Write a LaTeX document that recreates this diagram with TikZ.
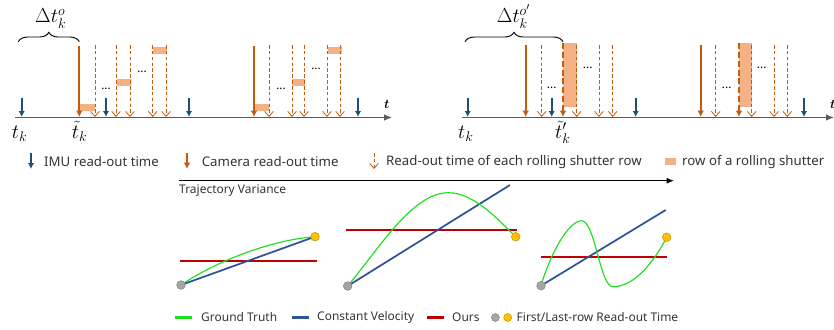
\documentclass[tikz,border=0pt]{standalone}
\usepackage{amsmath,amssymb}
\usepackage{fontspec}
\setmainfont{Noto Sans}
\usetikzlibrary{arrows.meta,decorations.pathreplacing}
\definecolor{cimu}{HTML}{1F4E79}
\definecolor{ccam}{HTML}{C55A11}
\definecolor{crow}{HTML}{F4B183}
\definecolor{caxis}{HTML}{595959}
\definecolor{cgt}{HTML}{1EE01E}
\definecolor{ccv}{HTML}{2F5597}
\definecolor{cours}{HTML}{C00000}
\definecolor{cfirst}{HTML}{A5A5A5}
\definecolor{clast}{HTML}{FFC000}
\tikzset{
  axis/.style={-{Latex[length=2.4mm,width=2mm]}, draw=caxis, line width=1.1pt},
  imu/.style={-{Latex[length=1.8mm,width=1.9mm]}, draw=cimu, line width=1.9pt},
  cam/.style={-{Latex[length=1.9mm,width=2mm]}, draw=ccam, line width=1.9pt},
  camd/.style={cam, dash pattern=on 5pt off 2.5pt},
  rs/.style={-{Straight Barb[length=1.5mm,width=2.6mm]}, draw=ccam, line width=0.7pt, dash pattern=on 3pt off 2pt},
  row/.style={fill=crow, draw=none},
  brc/.style={decorate, decoration={brace, amplitude=8pt}, line width=0.8pt},
  mlbl/.style={font=\fontsize{18}{20}\selectfont, inner sep=0pt, anchor=base west},
  tlbl/.style={font=\fontsize{10.5}{12}\selectfont, inner sep=0pt, anchor=base west},
  dots/.style={font=\bfseries\fontsize{10}{10}\selectfont, inner sep=0pt},
  lgd/.style={font=\fontsize{11.3}{13}\selectfont, anchor=west, inner sep=0pt, text=black!80},
  slgd/.style={font=\fontsize{10.2}{12}\selectfont, anchor=west, inner sep=0pt, text=black!80},
  gt/.style={draw=cgt, line width=1pt},
  cv/.style={draw=ccv, line width=1.5pt},
  ours/.style={draw=cours, line width=1.5pt},
  fpt/.style={circle, fill=cfirst, draw=black!50, line width=0.4pt, inner sep=0pt, minimum size=2.6mm},
  lpt/.style={circle, fill=clast, draw=clast!75!black, line width=0.4pt, inner sep=0pt, minimum size=2.6mm}
}

\begin{document}
\begin{tikzpicture}[x=0.03cm,y=-0.03cm]
\useasboundingbox (0,0) rectangle (834,329);

% left timeline
\draw[axis] (15,117.5) -- (392,117.5);
\foreach \xa/\xb/\ya in {80/95/104, 117/131/79, 153/167/47, 255/269/104, 292/305/79, 328/342/47}
  \fill[row] (\xa,\ya) rectangle (\xb,\ya+7);
\foreach \x in {95,116,130,152.7,166,269,292,304,327,340}
  \draw[rs] (\x,45) -- (\x,117);
\foreach \x in {79.3,254}
  \draw[cam] (\x,46) -- (\x,117);
\foreach \x in {21.7,106,189,358}
  \draw[imu] (\x,98) -- (\x,117);
\foreach \x/\y in {106/89, 142/72, 281/89, 316/69}
  \node[dots] at (\x,\y) {...};
\draw[brc] (18.3,41.7) -- (79.3,41.7);
\node[mlbl] (dto) at (35,22.5) {$\Delta t_k^{o}$};
\node[mlbl] (tka) at (11.7,138) {$t_k$};
\node[mlbl] (ttka) at (71.7,138) {$\tilde{t}_k$};
\node[tlbl] (taxa) at (384,108) {$\boldsymbol{t}$};

% right timeline
\draw[axis] (462,117.5) -- (834,117.5);
\fill[row] (563,43.3) rectangle (576.7,106.7);
\fill[row] (739,43.3) rectangle (751.7,106.7);
\foreach \x in {541.7,576.7,599,612.7,715.7,751.7,774,787.3}
  \draw[rs] (\x,45) -- (\x,117);
\foreach \x in {525.7,700.7}
  \draw[cam] (\x,45) -- (\x,117);
\foreach \x in {563,739}
  \draw[camd] (\x,43.3) -- (\x,117);
\foreach \x in {467.7,551.7,635.7,804}
  \draw[imu] (\x,98) -- (\x,117);
\foreach \x/\y in {551.7/88, 587.7/68, 726.7/88, 761.7/68}
  \node[dots] at (\x,\y) {...};
\draw[brc] (465,41.7) -- (563,41.7);
\node[mlbl] (dtop) at (496.7,22.5) {$\Delta t_k^{o'}$};
\node[mlbl] (tkb) at (458,138) {$t_k$};
\node[mlbl] (ttkb) at (555,138) {$\tilde{t}'_k$};
\node[tlbl] (taxb) at (830,108) {$\boldsymbol{t}$};

% legend
\draw[imu] (31,153) -- (31,169);
\node[lgd] (limu) at (44,161.7) {IMU read-out time};
\draw[cam] (187,153) -- (187,169);
\node[lgd] (lcam) at (201.6,161.7) {Camera read-out time};
\draw[rs] (374,153) -- (374,169);
\node[lgd] (lrs) at (386,161.7) {Read-out time of each rolling shutter row};
\fill[row] (665,158) rectangle (676,165);
\node[lgd] (lrow) at (682,161.7) {row of a rolling shutter};

% trajectory variance
\draw[-{Latex[length=2.2mm,width=1.8mm]}, line width=1pt] (179,180.7) -- (674,180.7);
\node[slgd] (tvar) at (179,190.7) {Trajectory Variance};

% low variance
\draw[ours] (180,261) -- (316.7,261);
\draw[cv] (181,285) -- (315,236.7);
\draw[gt] (181,285) .. controls (215,262) and (270,240) .. (315,236.7);
\node[fpt] (fa) at (181,285) {};
\node[lpt] (la) at (315,236.7) {};

% medium variance
\draw[ours] (345.7,230) -- (517.3,230);
\draw[cv] (347.7,286) -- (510,185);
\draw[gt] (347.7,286) .. controls (378,250) and (412,193) .. (448,192.7)
  .. controls (475,192.5) and (500,222) .. (515.7,236.7);
\node[fpt] (fb) at (347.7,286) {};
\node[lpt] (lb) at (515.7,236.7) {};

% high variance
\draw[ours] (541,256.7) -- (666.7,256.7);
\draw[cv] (541,285.7) -- (665.7,210);
\draw[gt] (541,285.7) .. controls (550,255) and (568,221) .. (581.7,220.7)
  .. controls (595,221) and (600,287) .. (613,286.7)
  .. controls (635,287) and (655,260) .. (666.7,237.3);
\node[fpt] (fc) at (541,285.7) {};
\node[lpt] (lc) at (666.7,237.3) {};

% bottom legend
\draw[gt, line width=1.8pt] (175,317.5) -- (192.3,317.5);
\node[slgd] (lgt) at (201,317.5) {Ground Truth};
\draw[cv, line width=1.8pt] (291.5,317.5) -- (308.8,317.5);
\node[slgd] (lcv) at (317,317.5) {Constant Velocity};
\draw[ours, line width=1.8pt] (427,317.5) -- (444,317.5);
\node[slgd] (lours) at (452,317.5) {Ours};
\node[fpt, minimum size=2.4mm] (lf) at (495.4,317.5) {};
\node[lpt, minimum size=2.4mm] (ll) at (507.7,317.5) {};
\node[slgd] (lfl) at (516.5,317.5) {First/Last-row Read-out Time};

\end{tikzpicture}
\end{document}
